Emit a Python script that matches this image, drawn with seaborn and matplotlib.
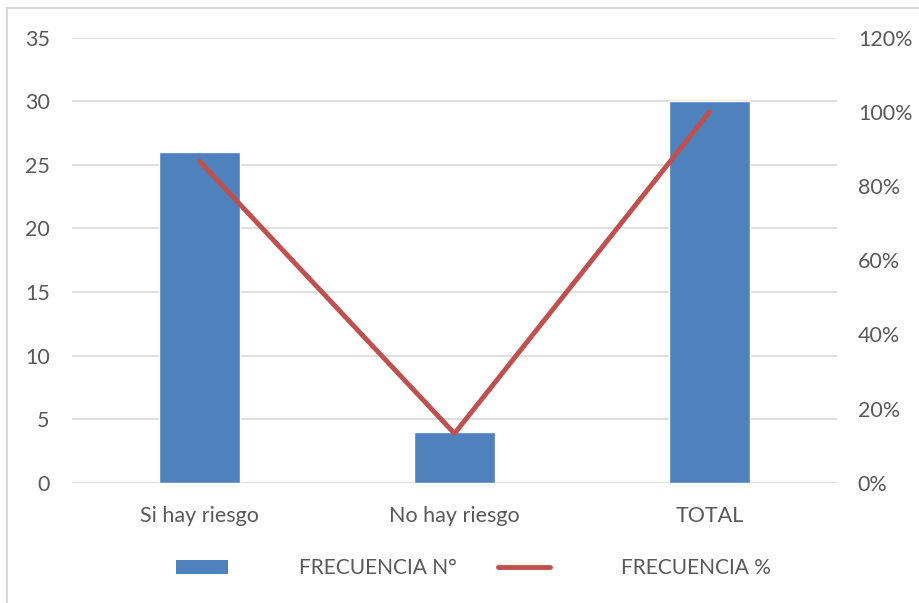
import matplotlib
matplotlib.use("Agg")
import matplotlib.pyplot as plt
from matplotlib.patches import Rectangle, Patch
from matplotlib.lines import Line2D
from matplotlib.ticker import FuncFormatter
import seaborn as sns
import pandas as pd

categories = ["Si hay riesgo", "No hay riesgo", "TOTAL"]
frecuencia_n = [26, 4, 30]
frecuencia_pct = [0.8667, 0.1333, 1.00]
left_ticks = [0, 5, 10, 15, 20, 25, 30, 35]
right_ticks = [0, 0.2, 0.4, 0.6, 0.8, 1.0, 1.2]

BAR_COLOR = "#4F81BD"
LINE_COLOR = "#C0504D"
TEXT_COLOR = "#595959"
GRID_COLOR = "#D9D9D9"
FS = 15.5
LEG_FS = 15

sns.set_theme(style="white")
plt.rcParams["font.family"] = ["Lato", "DejaVu Sans"]

df = pd.DataFrame({"cat": categories, "n": frecuencia_n, "pct": frecuencia_pct})

W, H = 920, 603
fig = plt.figure(figsize=(W / 100, H / 100), dpi=100)
ax = fig.add_axes([72 / W, (H - 483) / H, (837 - 72) / W, (483 - 37.5) / H])

sns.barplot(data=df, x="cat", y="n", color=BAR_COLOR, width=0.314,
            saturation=1, ax=ax, zorder=3)
ax.set_xlim(-0.5, 2.5)
ax.set_ylim(0, 35)
ax.set_yticks(left_ticks)
ax.set_xlabel("")
ax.set_ylabel("")
ax.grid(axis="y", color=GRID_COLOR, linewidth=1.2, zorder=0)
ax.set_axisbelow(True)
for s in ax.spines.values():
    s.set_visible(False)
ax.tick_params(axis="y", length=0, pad=16, labelsize=FS, labelcolor=TEXT_COLOR)
ax.tick_params(axis="x", length=0, pad=16.5, labelsize=FS, labelcolor=TEXT_COLOR)

ax2 = ax.twinx()
sns.lineplot(x=[0, 1, 2], y=df["pct"], color=LINE_COLOR, linewidth=3.5,
             sort=False, ax=ax2, zorder=4, solid_capstyle="round")
ax2.set_ylim(0, 1.2)
ax2.set_yticks(right_ticks)
ax2.yaxis.set_major_formatter(FuncFormatter(lambda v, p: f"{v * 100:.0f}%"))
ax2.set_ylabel("")
for s in ax2.spines.values():
    s.set_visible(False)
ax2.tick_params(axis="y", length=0, pad=15, labelsize=FS, labelcolor=TEXT_COLOR)
ax2.grid(False)

handles = [Patch(facecolor=BAR_COLOR, edgecolor="none"),
           Line2D([0], [0], color=LINE_COLOR, linewidth=3.5, solid_capstyle="round")]
leg = fig.legend(handles, ["FRECUENCIA N°", "FRECUENCIA %"],
                 loc="center", bbox_to_anchor=(473.5 / W, (H - 568) / H),
                 ncol=2, frameon=False, fontsize=LEG_FS, labelcolor=TEXT_COLOR,
                 handlelength=2.5, handleheight=0.67, handletextpad=3.4,
                 columnspacing=2.0)

# outer chart frame
fig.patches.append(Rectangle((7 / W, -0.05), 1.1, (H - 8) / H + 0.05,
                             transform=fig.transFigure, fill=False,
                             edgecolor=GRID_COLOR, linewidth=1.5, zorder=0))

fig.savefig("out.png", dpi=100, facecolor="white")
